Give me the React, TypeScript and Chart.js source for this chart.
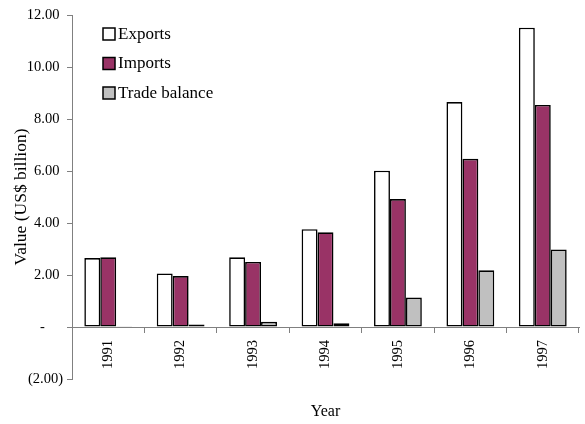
import React, { useEffect, useRef } from "react";
import { Chart, registerables } from "chart.js";

Chart.register(...registerables);

// Trade figures, US$ billion
const years = ["1991", "1992", "1993", "1994", "1995", "1996", "1997"];
const exportsValues = [2.65, 2.06, 2.68, 3.76, 6.01, 8.65, 11.51];
const importsValues = [2.68, 1.96, 2.5, 3.64, 4.92, 6.47, 8.54];
const tradeBalanceValues = [0.03, 0.1, 0.2, 0.14, 1.13, 2.18, 2.98];
const seriesNames = ["Exports", "Imports", "Trade balance"];
const yTickValues = [-2, 0, 2, 4, 6, 8, 10, 12];

const FONT = "'Liberation Serif', 'Times New Roman', serif";
const AXIS_GRAY = "#808080";

// Accounting-style tick labels: "12.00 ", "-", "(2.00)"
function formatAccounting(v: number): string {
  if (v === 0) return "-     ";
  if (v < 0) return `(${Math.abs(v).toFixed(2)})`;
  return `${v.toFixed(2)} `;
}

// Legend drawn inside the plot area, top-left
const insideLegend = {
  id: "insideLegend",
  afterDraw(chart: any) {
    const ctx = chart.ctx as CanvasRenderingContext2D;
    const x = 103;
    const y0 = 28;
    const rowGap = 29.5;
    const box = 12;
    ctx.save();
    ctx.font = `17px ${FONT}`;
    ctx.textBaseline = "middle";
    ctx.textAlign = "left";
    chart.data.datasets.forEach((ds: any, i: number) => {
      const y = y0 + i * rowGap;
      ctx.fillStyle = ds.backgroundColor;
      ctx.fillRect(x, y, box, box);
      ctx.lineWidth = 1.5;
      ctx.strokeStyle = "#000";
      ctx.strokeRect(x, y, box, box);
      ctx.fillStyle = "#000";
      ctx.fillText(ds.label, x + 15, y + box / 2 + 0.5);
    });
    ctx.restore();
  },
};

export default function App() {
  const canvasRef = useRef<HTMLCanvasElement | null>(null);

  useEffect(() => {
    if (!canvasRef.current) return;
    Chart.defaults.color = "#000";
    Chart.defaults.font.family = FONT;

    const barStyle = {
      borderColor: "#000",
      borderWidth: 1.6,
      borderSkipped: false as const,
      categoryPercentage: 0.66,
      barPercentage: 1,
    };

    const chart = new Chart(canvasRef.current, {
      type: "bar",
      data: {
        labels: years,
        datasets: [
          { label: seriesNames[0], data: exportsValues, backgroundColor: "#ffffff", ...barStyle },
          { label: seriesNames[1], data: importsValues, backgroundColor: "#993366", ...barStyle },
          { label: seriesNames[2], data: tradeBalanceValues, backgroundColor: "#c0c0c0", ...barStyle },
        ],
      },
      options: {
        animation: false,
        responsive: false,
        layout: { padding: { top: 15, right: 6, bottom: 45, left: 0 } },
        plugins: {
          legend: { display: false },
          tooltip: { enabled: false },
        },
        scales: {
          x: {
            position: { y: 0 } as any,
            grid: {
              offset: true,
              drawOnChartArea: false,
              drawTicks: true,
              tickLength: 5,
              tickColor: AXIS_GRAY,
              tickWidth: 1,
            },
            border: { display: true, color: AXIS_GRAY, width: 1 },
            ticks: {
              minRotation: 90,
              maxRotation: 90,
              autoSkip: false,
              padding: 8,
              font: { size: 14.5, family: FONT },
              color: "#000",
            },
            title: {
              display: true,
              text: "Year",
              font: { size: 16, family: FONT },
              color: "#000",
              padding: { top: 25, bottom: 0 },
            },
            afterFit(scale: any) {
              scale.paddingLeft = 0;
              scale.paddingRight = 0;
            },
          },
          y: {
            min: -2,
            max: 12,
            afterBuildTicks(scale: any) {
              scale.ticks = yTickValues.map((v) => ({ value: v }));
            },
            grid: {
              drawOnChartArea: false,
              drawTicks: true,
              tickLength: 5,
              tickColor: AXIS_GRAY,
              tickWidth: 1,
            },
            border: { display: true, color: AXIS_GRAY, width: 1 },
            ticks: {
              padding: 4,
              font: { size: 14.5, family: FONT },
              color: "#000",
              callback: (v: any) => formatAccounting(Number(v)),
            },
            title: {
              display: true,
              text: "Value (US$ billion)",
              font: { size: 17.5, family: FONT },
              color: "#000",
              padding: { top: 11, bottom: 0 },
            },
            afterFit(scale: any) {
              scale.width = 72;
              scale.paddingTop = 0;
              scale.paddingBottom = 0;
            },
          },
        },
      },
      plugins: [insideLegend],
    });

    return () => chart.destroy();
  }, []);

  return (
    <canvas
      ref={canvasRef}
      width={585}
      height={424}
      style={{ position: "absolute", left: 0, top: 0, display: "block", background: "#fff" }}
    />
  );
}
